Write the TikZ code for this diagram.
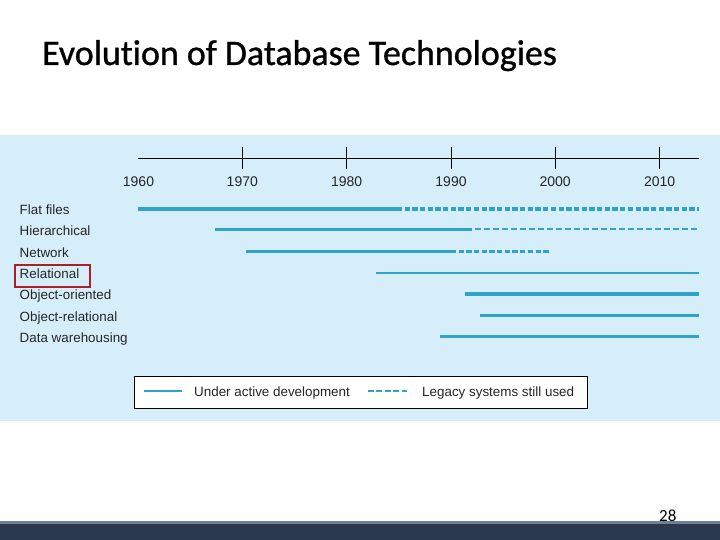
\documentclass[tikz,border=0pt]{standalone}
\usepackage{fontspec}
\setmainfont{Liberation Sans}
\newfontfamily\titlefont[Ligatures=NoCommon,FakeBold=0.9]{Carlito}
\newfontfamily\pagefont{Carlito}
\definecolor{panelbg}{RGB}{214,238,249}
\definecolor{barblue}{RGB}{48,163,200}
\definecolor{boxred}{RGB}{176,30,40}
\definecolor{footdark}{RGB}{42,57,78}
\definecolor{footlight}{RGB}{110,128,148}
\tikzset{
  lbl/.style={anchor=base west, inner sep=0pt, font=\fontsize{13.4}{15}\selectfont, text=black!85},
  yr/.style={anchor=base, inner sep=0pt, font=\fontsize{14}{16}\selectfont, text=black!85},
  active/.style={draw=barblue, line cap=butt},
  legacy/.style={draw=barblue, line cap=butt, dash pattern=on 5.3pt off 2.4pt},
  legacythin/.style={draw=barblue, line cap=butt, dash pattern=on 6pt off 3pt},
}
\begin{document}
\begin{tikzpicture}[x=1pt,y=-1pt]
\useasboundingbox (0,0) rectangle (720,540);
\fill[white] (0,0) rectangle (720,540);
% title
\node[anchor=base west, inner sep=0pt, font=\titlefont\fontsize{35.9}{40}\selectfont] (title) at (42,65) {Evolution of Database Technologies};
% panel
\fill[panelbg] (0,135) rectangle (720,421);
% axis
\coordinate (axL) at (138,159);
\coordinate (axR) at (699,159);
\draw[black, line width=1pt] (axL) -- (axR);
\foreach \yv/\xv in {1970/242.3,1980/346.6,1990/451,2000/555.2,2010/659.6}{
  \coordinate (t\yv) at (\xv,159);
  \draw[black, line width=0.9pt] (\xv,147.5) -- (\xv,169.5);
}
\foreach \yv/\xv in {1960/138.5,1970/242.3,1980/346.6,1990/451,2000/555.2,2010/659.6}{
  \node[yr] (y\yv) at (\xv,186.7) {\yv};
}
% labels
\node[lbl] (lflat) at (19.5,214.3) {Flat files};
\node[lbl] (lhier) at (19.5,235.6) {Hierarchical};
\node[lbl] (lnet) at (19.5,257) {Network};
\node[lbl] (lrel) at (19.5,278.3) {Relational};
\node[lbl] (loo) at (19.5,299.6) {Object-oriented};
\node[lbl] (lor) at (19.5,321) {Object-relational};
\node[lbl] (ldw) at (19.5,342.3) {Data warehousing};
% red box
\node[draw=boxred, line width=2.4pt, inner sep=0pt, minimum width=75pt, minimum height=22pt, anchor=north west] (redbox) at (13.5,263.5) {};
% bars
\coordinate (f1) at (138,209); \coordinate (f2) at (402,209); \coordinate (f3) at (699,209);
\draw[active, line width=4pt] (f1) -- (f2);
\draw[legacy, line width=4pt] ([xshift=2.5pt]f2) -- (f3);
\coordinate (h1) at (215,229.5); \coordinate (h2) at (472,229.5); \coordinate (h3) at (699,229.5);
\draw[active, line width=2.4pt] (h1) -- (h2);
\draw[legacythin, line width=2pt] ([xshift=2.5pt]h2) -- (h3);
\coordinate (n1) at (246,251.3); \coordinate (n2) at (456,251.3); \coordinate (n3) at (549,251.3);
\draw[active, line width=3.5pt] (n1) -- (n2);
\draw[legacy, line width=3.5pt] ([xshift=2.5pt]n2) -- (n3);
\coordinate (r1) at (376,272.7); \coordinate (r2) at (699,272.7);
\draw[active, line width=2.4pt] (r1) -- (r2);
\coordinate (o1) at (465,293.7); \coordinate (o2) at (699,293.7);
\draw[active, line width=4pt] (o1) -- (o2);
\coordinate (or1) at (480,315); \coordinate (or2) at (699,315);
\draw[active, line width=3pt] (or1) -- (or2);
\coordinate (d1) at (440,336.3); \coordinate (d2) at (699,336.3);
\draw[active, line width=3pt] (d1) -- (d2);
% legend
\node[draw=black, fill=white, line width=0.9pt, inner sep=0pt, minimum width=453pt, minimum height=32pt, anchor=north west] (legend) at (133.5,375.5) {};
\coordinate (la1) at (144,391); \coordinate (la2) at (182,391);
\draw[active, line width=2pt] (la1) -- (la2);
\node[lbl] (ltxt1) at (194,396.2) {Under active development};
\coordinate (lb1) at (368,391); \coordinate (lb2) at (409,391);
\draw[draw=barblue, line width=1.6pt, dash pattern=on 5.8pt off 2.6pt] (lb1) -- (lb2);
\node[lbl] (ltxt2) at (422,396.2) {Legacy systems still used};
% footer
\fill[footlight] (0,521) rectangle (720,525);
\fill[footdark] (0,524) rectangle (720,540);
\node[anchor=base west, inner sep=0pt, font=\pagefont\fontsize{17}{19}\selectfont] (pnum) at (659,521) {28};
\end{tikzpicture}
\end{document}
